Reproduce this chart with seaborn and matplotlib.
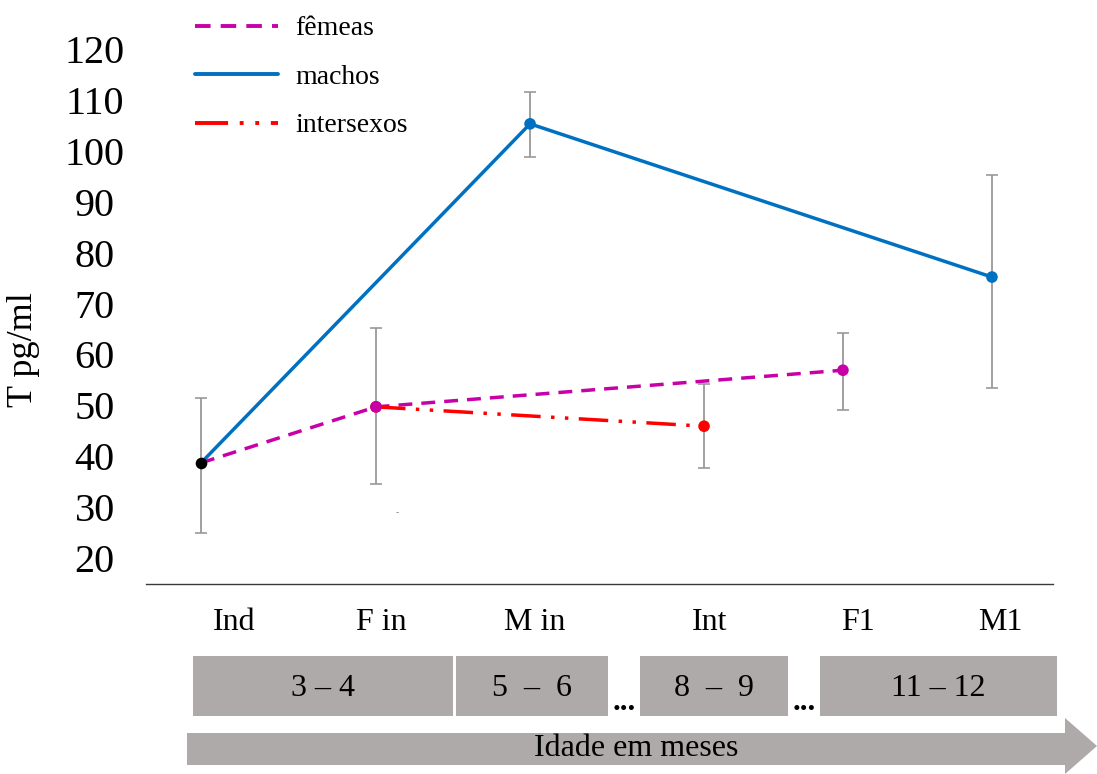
import numpy as np
import pandas as pd
import matplotlib.pyplot as plt
import seaborn as sns
from matplotlib.patches import Rectangle, Polygon
from matplotlib.lines import Line2D

sns.set_theme(style='white')
plt.rcParams['font.family'] = ['Liberation Serif', 'DejaVu Serif']
plt.rcParams['text.color'] = 'black'
plt.rcParams['xtick.color'] = 'black'
plt.rcParams['ytick.color'] = 'black'

# categories on the x axis (stages)
categories = ['Ind', 'F in', 'M in', 'Int', 'F1', 'M1']

# testosterone means per group
machos_cat = ['Ind', 'M in', 'M1']
machos_val = [38.7, 105.3, 75.2]
femeas_cat = ['Ind', 'F in', 'F1']
femeas_val = [38.7, 49.7, 56.9]
inter_cat = ['F in', 'Int']
inter_val = [49.7, 45.9]

# error bars, one per stage
err_mean = [38.7, 49.7, 105.3, 45.9, 56.9, 75.2]
err_low = [13.8, 15.2, 6.6, 8.2, 7.8, 21.8]
err_high = [12.8, 15.5, 6.3, 8.3, 7.3, 20.0]

yticks = [20, 30, 40, 50, 60, 70, 80, 90, 100, 110, 120]
age_labels = ['3 – 4', '5  –  6', '8  –  9', '11 – 12']

# layout: stage positions are not evenly spaced in the original,
# and the stage labels sit a little right of the points
cat_pos = dict(zip(categories, [0, 1.106, 2.08, 3.18, 4.058, 5.0]))
label_pos = [0.209, 1.138, 2.111, 3.217, 4.153, 5.051]

W, H = 1097, 774

df = pd.concat([
    pd.DataFrame({'grupo': 'machos', 'estagio': machos_cat, 'T': machos_val}),
    pd.DataFrame({'grupo': 'fêmeas', 'estagio': femeas_cat, 'T': femeas_val}),
    pd.DataFrame({'grupo': 'intersexos', 'estagio': inter_cat, 'T': inter_val}),
], ignore_index=True)
df['x'] = df['estagio'].map(cat_pos)

colors = {'machos': '#0070C0', 'fêmeas': '#C800A8', 'intersexos': '#FF0000'}
dashes = {'machos': '', 'fêmeas': (4, 2.6), 'intersexos': (8.5, 3, 1, 3, 1, 3)}

fig = plt.figure(figsize=(W / 100, H / 100), dpi=100)
ax = fig.add_axes([146 / W, 1 - 584 / H, (1053 - 146) / W, (584 - 20) / H])

ax.errorbar([cat_pos[c] for c in categories], err_mean, yerr=[err_low, err_high],
            fmt='none', ecolor='#999999', elinewidth=1.3, capsize=4.5,
            capthick=1.2, zorder=1)

sns.lineplot(data=df, x='x', y='T', hue='grupo', style='grupo',
             palette=colors, dashes=dashes, linewidth=2.5, sort=False,
             legend=False, ax=ax, zorder=2)

# markers: end points in group colour (fêmeas on top of intersexos),
# shared start point in black
order = {'intersexos': 0, 'machos': 1, 'fêmeas': 2}
pts = df[df['estagio'] != 'Ind'].sort_values('grupo', key=lambda s: s.map(order))
sns.scatterplot(data=pts, x='x', y='T', hue='grupo', palette=colors,
                s=70, linewidth=0, legend=False, ax=ax, zorder=3)
ind = df[df['estagio'] == 'Ind'].iloc[:1]
sns.scatterplot(data=ind, x='x', y='T', color='black', s=70, linewidth=0,
                legend=False, ax=ax, zorder=4)

ax.set_xlim(-0.348, 5.386)
ax.set_ylim(14.9, 125.7)
ax.set_xticks(label_pos)
ax.set_xticklabels(categories, fontsize=23)
ax.set_yticks(yticks)
ax.set_yticklabels([str(v) for v in yticks], fontsize=29)
for lab in ax.get_yticklabels():
    lab.set_horizontalalignment('center')
ax.tick_params(axis='y', length=0, pad=37)
ax.tick_params(axis='x', length=0, pad=17)
ax.set_xlabel('')
ax.set_ylabel('')
for side in ['top', 'right', 'left']:
    ax.spines[side].set_visible(False)
ax.spines['bottom'].set_color('#3a3a3a')
ax.spines['bottom'].set_linewidth(1.0)
ax.grid(False)

fig.text(24 / W, 1 - 350 / H, 'T pg/ml', rotation=90, fontsize=26,
         ha='center', va='center')
fig.text(397 / W, 1 - 513 / H, '-', fontsize=7, color='#888888',
         ha='center', va='center')

groups = ['fêmeas', 'machos', 'intersexos']
handles = []
for g in groups:
    h = Line2D([], [], color=colors[g], linewidth=2.8)
    if dashes[g]:
        h.set_dashes(dashes[g])
    handles.append(h)
ax.legend(handles, groups, loc='upper left',
          bbox_to_anchor=(195 / W, 1 - 16 / H), bbox_transform=fig.transFigure,
          frameon=False, fontsize=20, handlelength=3.0, handletextpad=0.6,
          labelspacing=0.83, borderpad=0, borderaxespad=0)

# age boxes and arrow below the axis (figure pixel layout)
box_grey = '#ADAAA9'
boxes = [(193, 453), (456, 608), (640, 788), (820, 1057)]
for (x0, x1), lab in zip(boxes, age_labels):
    fig.add_artist(Rectangle((x0 / W, 1 - 716 / H), (x1 - x0) / W, 60 / H,
                             transform=fig.transFigure, color=box_grey, lw=0))
    fig.text((x0 + x1) / 2 / W, 1 - 688 / H, lab, fontsize=23,
             ha='center', va='center')
for xd in [624, 804]:
    fig.text(xd / W, 1 - 703 / H, '...', fontsize=22, fontweight='bold',
             ha='center', va='center')

arrow = [(187, 733), (1065, 733), (1065, 718), (1097, 746), (1065, 774),
         (1065, 765), (187, 765)]
fig.add_artist(Polygon([(x / W, 1 - y / H) for x, y in arrow], closed=True,
                       transform=fig.transFigure, color=box_grey, lw=0))
fig.text(636 / W, 1 - 748 / H, 'Idade em meses', fontsize=23,
         ha='center', va='center')

fig.savefig('out.png', dpi=100)
